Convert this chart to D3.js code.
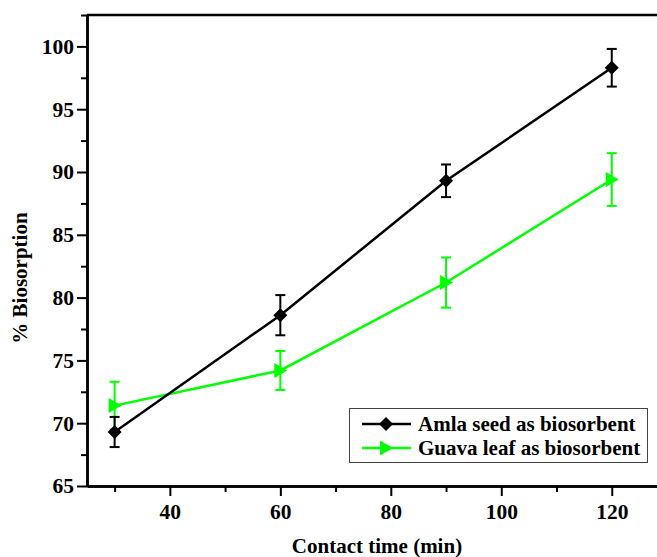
<!DOCTYPE html>
<html>
<head>
<meta charset="utf-8">
<script src="https://cdn.jsdelivr.net/npm/d3@7"></script>
<style>
  html, body { margin: 0; padding: 0; background: #ffffff; }
  svg { display: block; }
  text { font-family: "Liberation Serif", "Times New Roman", serif; font-weight: bold; fill: #000; }
</style>
</head>
<body>
<svg id="chart" width="657" height="557"></svg>
<script>
// ---- data ----
const contactTime = [30, 60, 90, 120];
const amlaValues = [69.3, 78.6, 89.3, 98.3];
const amlaErrors = [1.2, 1.6, 1.3, 1.5];
const guavaValues = [71.4, 74.2, 81.2, 89.4];
const guavaErrors = [1.9, 1.55, 2.0, 2.1];
const xTicks = [40, 60, 80, 100, 120];
const xMinorTicks = [30, 50, 70, 90, 110, 130];
const yTicks = [65, 70, 75, 80, 85, 90, 95, 100];
const yMinorTicks = [67.5, 72.5, 77.5, 82.5, 87.5, 92.5, 97.5, 102.5];
const seriesNames = ["Amla seed as biosorbent", "Guava leaf as biosorbent"];
const seriesColors = ["#000000", "#00ff00"];

(function () {
const svg = d3.select("#chart");
const mLeft = 87, mRight = 667, mTop = 15, mBottom = 486;

const x = d3.scaleLinear().domain([25, 130]).range([mLeft, mRight]);
const y = d3.scaleLinear().domain([65, 102.5]).range([mBottom, mTop]);

// axes
const xAxis = svg.append("g").attr("transform", `translate(0,${mBottom})`)
  .call(d3.axisBottom(x).tickValues(xTicks).tickSize(10).tickPadding(5).tickSizeOuter(0));
const xMinor = svg.append("g").attr("transform", `translate(0,${mBottom})`)
  .call(d3.axisBottom(x).tickValues(xMinorTicks).tickSize(6).tickFormat("").tickSizeOuter(0));
const yAxis = svg.append("g").attr("transform", `translate(${mLeft},0)`)
  .call(d3.axisLeft(y).tickValues(yTicks).tickSize(10).tickPadding(3).tickSizeOuter(0));
const yMinor = svg.append("g").attr("transform", `translate(${mLeft},0)`)
  .call(d3.axisLeft(y).tickValues(yMinorTicks).tickSize(6).tickFormat("").tickSizeOuter(0));

[xAxis, xMinor, yAxis, yMinor].forEach(g => {
  g.select(".domain").attr("stroke", "#000").attr("stroke-width", 2.5);
  g.selectAll(".tick line").attr("stroke", "#000").attr("stroke-width", 2);
  g.selectAll(".tick text").style("font-size", "21.5px")
    .style("font-family", "'Liberation Serif', 'Times New Roman', serif").style("font-weight", "bold");
});
xAxis.selectAll(".tick text").attr("dy", "0.85em");
// top border
svg.append("line").attr("x1", mLeft).attr("x2", mRight).attr("y1", mTop).attr("y2", mTop)
  .attr("stroke", "#000").attr("stroke-width", 2.5);

// axis titles
svg.append("text").attr("x", 377).attr("y", 553).attr("text-anchor", "middle")
  .style("font-size", "21px").text("Contact time (min)");
svg.append("text").attr("transform", "translate(27,278) rotate(-90)").attr("text-anchor", "middle")
  .style("font-size", "21px").text("% Biosorption");

const series = [
  { name: seriesNames[1], color: seriesColors[1], values: guavaValues, errors: guavaErrors, shape: "tri" },
  { name: seriesNames[0], color: seriesColors[0], values: amlaValues, errors: amlaErrors, shape: "dia" }
];

function markerPath(shape) {
  if (shape === "dia") return "M0,-7L7,0L0,7L-7,0Z";
  return "M-6,-7.5L7,0L-6,7.5Z";
}

const line = d3.line().x(d => x(d[0])).y(d => y(d[1]));

series.forEach(s => {
  const pts = contactTime.map((t, i) => [t, s.values[i], s.errors[i]]);
  const g = svg.append("g");
  // error bars
  pts.forEach(p => {
    g.append("line").attr("x1", x(p[0])).attr("x2", x(p[0]))
      .attr("y1", y(p[1] - p[2])).attr("y2", y(p[1] + p[2]))
      .attr("stroke", s.color).attr("stroke-width", 2);
    [p[1] - p[2], p[1] + p[2]].forEach(v => {
      g.append("line").attr("x1", x(p[0]) - 5).attr("x2", x(p[0]) + 5)
        .attr("y1", y(v)).attr("y2", y(v)).attr("stroke", s.color).attr("stroke-width", 2);
    });
  });
  g.append("path").datum(pts).attr("d", line).attr("fill", "none")
    .attr("stroke", s.color).attr("stroke-width", 2.5);
  g.selectAll("path.mk").data(pts).enter().append("path").attr("class", "mk")
    .attr("transform", d => `translate(${x(d[0])},${y(d[1])})`)
    .attr("d", markerPath(s.shape)).attr("fill", s.color);
});

// legend
const lg = svg.append("g");
lg.append("rect").attr("x", 349.5).attr("y", 408.5).attr("width", 298).attr("height", 54)
  .attr("fill", "#fff").attr("stroke", "#444").attr("stroke-width", 1);
const legendRows = [
  { name: seriesNames[0], color: seriesColors[0], shape: "dia", ly: 424 },
  { name: seriesNames[1], color: seriesColors[1], shape: "tri", ly: 448 }
];
legendRows.forEach(r => {
  lg.append("line").attr("x1", 362).attr("x2", 411).attr("y1", r.ly).attr("y2", r.ly)
    .attr("stroke", r.color).attr("stroke-width", 2.5);
  lg.append("path").attr("transform", `translate(386,${r.ly})`).attr("d", markerPath(r.shape))
    .attr("fill", r.color);
  lg.append("text").attr("x", 418).attr("y", r.ly + 7).style("font-size", "21px").text(r.name);
});
})();
</script>
</body>
</html>
